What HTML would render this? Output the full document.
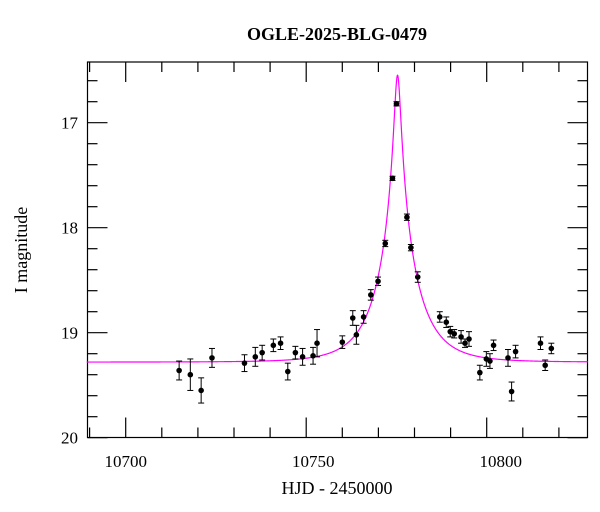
<!DOCTYPE html>
<html><head><meta charset="utf-8"><style>
html,body{margin:0;padding:0;background:#fff;}
svg{display:block;font-family:"Liberation Serif",serif;}
</style></head><body>
<svg id="chart" width="600" height="512">
<text x="337" y="40" text-anchor="middle" font-size="18" font-weight="bold">OGLE-2025-BLG-0479</text>
<text x="337" y="494" text-anchor="middle" font-size="18">HJD - 2450000</text>
<text transform="translate(27,250) rotate(-90)" text-anchor="middle" font-size="18">I magnitude</text>
<rect x="87.5" y="62" width="500" height="375.5" fill="none" stroke="#000" stroke-width="1.2"/>
<g id="ticks"></g>
<g id="model"></g>
<g id="points"></g>
</svg>
<script>
const dates=[10714.8,10717.9,10720.9,10723.9,10732.9,10735.9,10737.8,10740.9,10742.9,10744.9,10747.0,10749.0,10751.9,10753.0,10760.0,10762.9,10763.9,10765.9,10767.9,10769.9,10771.9,10773.9,10775.0,10777.9,10779.0,10780.9,10787.0,10788.8,10789.9,10791.0,10792.9,10794.0,10795.1,10798.1,10799.9,10800.9,10801.9,10805.9,10806.9,10808.0,10814.9,10816.2,10817.9];
const mags=[19.36,19.40,19.55,19.24,19.29,19.23,19.19,19.12,19.10,19.37,19.19,19.23,19.22,19.10,19.09,18.86,19.02,18.85,18.64,18.51,18.15,17.53,16.82,17.90,18.19,18.47,18.85,18.90,18.99,19.01,19.04,19.10,19.06,19.38,19.25,19.27,19.12,19.24,19.56,19.18,19.10,19.31,19.15];
const errs=[0.09,0.15,0.12,0.09,0.08,0.09,0.07,0.06,0.06,0.08,0.06,0.08,0.08,0.13,0.06,0.07,0.09,0.06,0.05,0.04,0.03,0.02,0.02,0.03,0.03,0.05,0.05,0.05,0.05,0.04,0.06,0.04,0.07,0.07,0.07,0.07,0.05,0.08,0.09,0.06,0.06,0.05,0.05];
const xTickLabels=[10700,10750,10800];
const yTickLabels=[17,18,19,20];
const t0=10775.3, tE=10.5, u0=0.081, fs=1.0, baseMag=19.28;

const X0=125.7, XPD=3.61, Y0=122.7, YPM=105;
const xS=d=>X0+(d-10700)*XPD;
const yS=m=>Y0+(m-17)*YPM;
const NS='http://www.w3.org/2000/svg';
function mk(tag,attrs,parent){const e=document.createElementNS(NS,tag);for(const k in attrs)e.setAttribute(k,attrs[k]);parent.appendChild(e);return e;}
const tg=document.getElementById('ticks');
const L=87.5,R=587.5,T=62,B=437.5;
for(let d=10690;d<=10820;d+=10){
  const x=xS(d), major=d%50===0, len=major?20:10;
  let l=mk('line',{x1:x,y1:B,x2:x,y2:B-len,stroke:'#000','stroke-width':1.2},tg);
  
  
  l=mk('line',{x1:x,y1:T,x2:x,y2:T+len,stroke:'#000','stroke-width':1.2},tg);
  
  
}
for(let i=0;i<=17;i++){
  const m=16.6+i*0.2, y=yS(m), major=Math.abs(m-Math.round(m))<1e-6, len=major?20:10;
  if(y<T||y>B+0.5)continue;
  let l=mk('line',{x1:L,y1:y,x2:L+len,y2:y,stroke:'#000','stroke-width':1.2},tg);
  
  
  l=mk('line',{x1:R,y1:y,x2:R-len,y2:y,stroke:'#000','stroke-width':1.2},tg);
  
  
}
xTickLabels.forEach(v=>{
  const t=mk('text',{x:xS(v)+(v-10700)*0.14,y:467,'text-anchor':'middle','font-size':17},tg);
  t.textContent=v;
  
  
});
yTickLabels.forEach(v=>{
  const t=mk('text',{x:78,y:yS(v)+6,'text-anchor':'end','font-size':17},tg);
  t.textContent=v;
  
  
});
function modelMag(t){
  const u=Math.sqrt(u0*u0+Math.pow((t-t0)/tE,2));
  const A=(u*u+2)/(u*Math.sqrt(u*u+4));
  return baseMag-2.5*Math.log10(fs*A+1-fs);
}
let dstr='';
for(let t=10689.2;t<=10828;t+=0.05){
  dstr+=(dstr?'L':'M')+xS(t).toFixed(2)+','+yS(modelMag(t)).toFixed(2);
}
const p=mk('path',{d:dstr,fill:'none',stroke:'#ff00ff','stroke-width':1.2},document.getElementById('model'));


const pg=document.getElementById('points');
dates.forEach((d,i)=>{
  const x=xS(d), y=yS(mags[i]), e=errs[i]*YPM;
  const g=mk('g',{},pg);
  
  
  mk('line',{x1:x,y1:y-e,x2:x,y2:y+e,stroke:'#000','stroke-width':1},g);
  mk('line',{x1:x-3,y1:y-e,x2:x+3,y2:y-e,stroke:'#000','stroke-width':1},g);
  mk('line',{x1:x-3,y1:y+e,x2:x+3,y2:y+e,stroke:'#000','stroke-width':1},g);
  mk('circle',{cx:x,cy:y,r:2.8,fill:'#000'},g);
});
</script>
</body></html>
